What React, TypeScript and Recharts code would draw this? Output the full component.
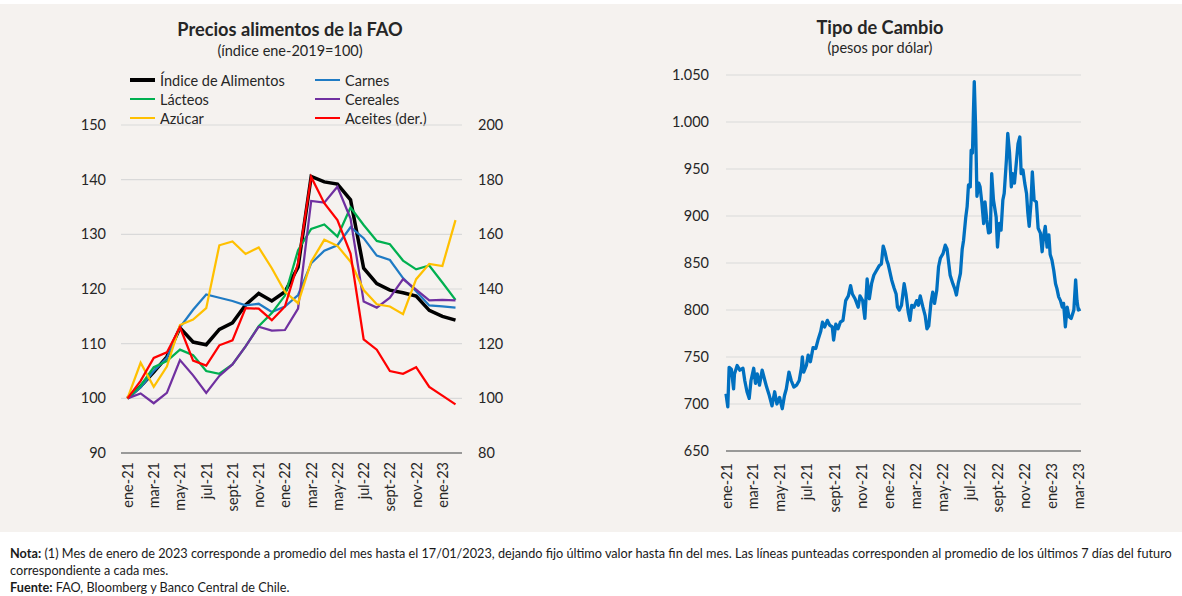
import { LineChart, Line, XAxis, YAxis, CartesianGrid } from "recharts";

const months = [
  "ene-21", "feb-21", "mar-21", "abr-21", "may-21", "jun-21", "jul-21", "ago-21", "sept-21", "oct-21", "nov-21", "dic-21",
  "ene-22", "feb-22", "mar-22", "abr-22", "may-22", "jun-22", "jul-22", "ago-22", "sept-22", "oct-22", "nov-22", "dic-22",
  "ene-23", "feb-23",
];
const indiceAlimentos = [100, 102.2, 104.8, 107.6, 112.9, 110.3, 109.8, 112.6, 113.8, 117.1, 119.2, 117.8, 119.5, 124, 140.6, 139.6, 139.2, 136.3, 123.8, 121, 119.8, 119.3, 118.7, 116.1, 115, 114.3];
const carnes = [100, 102, 105, 107.4, 113, 116.2, 119, 118.4, 117.8, 117, 117.3, 115.8, 116.8, 118.9, 124.7, 127, 128, 131.3, 129.3, 126.1, 125.3, 122, 119.6, 117, 116.8, 116.6];
const lacteos = [100, 102.3, 105.7, 106.8, 108.9, 107.9, 105, 104.5, 106.2, 109.5, 113.2, 115.6, 118.8, 127.1, 131, 131.8, 129.6, 134.9, 131.7, 128.8, 128.2, 125.2, 123.6, 124.3, 121.2, 118];
const cereales = [100, 100.9, 99.1, 101, 107, 104.2, 101, 104.1, 106.2, 109.5, 113.1, 112.4, 112.5, 116.4, 136.1, 135.8, 138.7, 132.9, 117.7, 116.6, 118.4, 121.8, 119.9, 117.9, 118, 117.9];
const azucar = [100, 106.5, 102.1, 105.8, 113.4, 114.4, 116.5, 128, 128.7, 126.4, 127.6, 123.8, 119.5, 117.4, 125, 129, 127.9, 125, 119.8, 117.2, 116.8, 115.4, 121.8, 124.6, 124.2, 132.6];
// eje derecho
const aceites = [100, 106.4, 114.8, 116.8, 126, 113.8, 112, 119.4, 121.2, 133, 132.8, 128.6, 133.6, 149.4, 181, 171.4, 165.2, 153, 121.6, 117.8, 110, 109, 111.4, 104.2, 101, 97.8];

const leftTicks = [90, 100, 110, 120, 130, 140, 150];
const rightTicks = [80, 100, 120, 140, 160, 180, 200];

const fxDates = [
  "2021-01-01", "2021-01-05", "2021-01-08", "2021-01-13", "2021-01-18", "2021-01-20", "2021-01-26", "2021-02-01", "2021-02-08", "2021-02-12",
  "2021-02-17", "2021-02-22", "2021-02-26", "2021-03-04", "2021-03-08", "2021-03-12", "2021-03-17", "2021-03-23", "2021-03-29", "2021-04-02",
  "2021-04-08", "2021-04-14", "2021-04-20", "2021-04-25", "2021-05-01", "2021-05-07", "2021-05-12", "2021-05-16", "2021-05-22", "2021-05-27",
  "2021-06-02", "2021-06-08", "2021-06-14", "2021-06-19", "2021-06-21", "2021-06-24", "2021-06-30", "2021-07-04", "2021-07-09", "2021-07-15",
  "2021-07-21", "2021-07-26", "2021-08-01", "2021-08-05", "2021-08-10", "2021-08-16", "2021-08-21", "2021-08-27", "2021-08-30", "2021-09-04",
  "2021-09-09", "2021-09-14", "2021-09-20", "2021-09-26", "2021-10-02", "2021-10-07", "2021-10-11", "2021-10-17", "2021-10-24", "2021-10-28",
  "2021-11-03", "2021-11-08", "2021-11-13", "2021-11-18", "2021-11-23", "2021-11-28", "2021-12-04", "2021-12-10", "2021-12-15", "2021-12-19",
  "2021-12-23", "2021-12-27", "2021-12-30", "2022-01-07", "2022-01-12", "2022-01-17", "2022-01-20", "2022-01-24", "2022-01-29", "2022-02-04",
  "2022-02-08", "2022-02-13", "2022-02-17", "2022-02-21", "2022-02-26", "2022-03-04", "2022-03-08", "2022-03-12", "2022-03-18", "2022-03-23",
  "2022-03-27", "2022-03-31", "2022-04-05", "2022-04-09", "2022-04-13", "2022-04-18", "2022-04-22", "2022-04-26", "2022-05-02", "2022-05-07",
  "2022-05-11", "2022-05-15", "2022-05-18", "2022-05-24", "2022-05-28", "2022-06-01", "2022-06-05", "2022-06-10", "2022-06-14", "2022-06-17",
  "2022-06-22", "2022-06-25", "2022-06-28", "2022-07-02", "2022-07-04", "2022-07-07", "2022-07-09", "2022-07-11", "2022-07-14", "2022-07-17",
  "2022-07-21", "2022-07-24", "2022-07-28", "2022-08-01", "2022-08-04", "2022-08-08", "2022-08-12", "2022-08-16", "2022-08-19", "2022-08-23",
  "2022-08-29", "2022-09-01", "2022-09-05", "2022-09-09", "2022-09-13", "2022-09-16", "2022-09-21", "2022-09-24", "2022-09-28", "2022-10-02",
  "2022-10-05", "2022-10-09", "2022-10-13", "2022-10-17", "2022-10-21", "2022-10-24", "2022-10-28", "2022-11-01", "2022-11-05", "2022-11-08",
  "2022-11-11", "2022-11-15", "2022-11-18", "2022-11-22", "2022-11-27", "2022-12-01", "2022-12-06", "2022-12-10", "2022-12-13", "2022-12-17",
  "2022-12-21", "2022-12-25", "2022-12-28", "2023-01-01", "2023-01-05", "2023-01-09", "2023-01-12", "2023-01-16", "2023-01-20", "2023-01-24",
  "2023-01-27", "2023-01-31", "2023-02-04", "2023-02-08", "2023-02-13", "2023-02-19", "2023-02-23", "2023-02-26", "2023-03-01", "2023-03-06",
];
const fxValues = [
  711, 697, 739, 737, 716, 732, 741, 736, 738, 725,
  713, 706, 725, 738, 722, 732, 720, 736, 725, 718,
  709, 698, 713, 700, 707, 695, 709, 716, 734, 725,
  718, 720, 725, 739, 750, 734, 741, 752, 745, 760,
  759, 768, 777, 787, 782, 789, 784, 782, 768, 785,
  780, 787, 789, 810, 815, 826, 817, 812, 803, 815,
  810, 791, 833, 812, 828, 837, 842, 847, 849, 868,
  862, 853, 849, 832, 824, 817, 803, 800, 805, 828,
  817, 798, 789, 805, 803, 810, 805, 815, 803, 794,
  780, 783, 808, 819, 807, 821, 846, 855, 860, 869,
  865, 849, 837, 828, 823, 816, 828, 839, 865, 874,
  899, 910, 933, 931, 970, 967, 1009, 1043, 995, 921,
  935, 931, 914, 892, 915, 896, 882, 883, 945, 917,
  899, 867, 892, 885, 917, 924, 960, 988, 967, 931,
  945, 935, 956, 977, 984, 945, 949, 935, 924, 903,
  889, 914, 947, 917, 915, 887, 882, 862, 878, 889,
  867, 880, 859, 853, 842, 828, 823, 814, 810, 803,
  807, 782, 803, 793, 791, 800, 832, 810, 800, 801,
];
const fxTickDates = [
  "2021-01-01", "2021-03-01", "2021-05-01", "2021-07-01", "2021-09-01", "2021-11-01",
  "2022-01-01", "2022-03-01", "2022-05-01", "2022-07-01", "2022-09-01", "2022-11-01",
  "2023-01-01", "2023-03-01",
];
const fxTickLabels = [
  "ene-21", "mar-21", "may-21", "jul-21", "sept-21", "nov-21",
  "ene-22", "mar-22", "may-22", "jul-22", "sept-22", "nov-22",
  "ene-23", "mar-23",
];
const fxTicksY = [650, 700, 750, 800, 850, 900, 950, 1000, 1050];

const foodData = months.map((mes, i) => ({
  mes,
  alimentos: indiceAlimentos[i],
  carnes: carnes[i],
  lacteos: lacteos[i],
  cereales: cereales[i],
  azucar: azucar[i],
  aceites: aceites[i],
}));

const toTime = (d: string) => Date.parse(d + "T00:00:00Z");
const fxData = fxDates.map((d, i) => ({ t: toTime(d), tc: fxValues[i] }));
const fxTicks = fxTickDates.map(toTime);

const FONT = "Lato, 'Open Sans', sans-serif";
const TEXT = "#262626";
const GRID = "#D9D9D9";
const BG = "#F5F2EF";

const RotTick = (props: any) => {
  const { x, y, payload, labelOf } = props;
  const label = labelOf ? labelOf(payload.value) : payload.value;
  return (
    <text
      x={x}
      y={y}
      transform={`rotate(-90 ${x} ${y})`}
      textAnchor="end"
      dominantBaseline="central"
      fontSize={14.5}
      fontFamily={FONT}
      fill={TEXT}
    >
      {label}
    </text>
  );
};

const fmtMiles = (v: number) =>
  v >= 1000 ? `${Math.floor(v / 1000)}.${String(v % 1000).padStart(3, "0")}` : String(v);

const legendItems = [
  { name: "Índice de Alimentos", color: "#000000", w: 4, x: 130, y: 80 },
  { name: "Carnes", color: "#1F7BC4", w: 2.5, x: 315, y: 80 },
  { name: "Lácteos", color: "#00B050", w: 2.5, x: 130, y: 99 },
  { name: "Cereales", color: "#7030A0", w: 2.5, x: 315, y: 99 },
  { name: "Azúcar", color: "#FFC000", w: 2.5, x: 130, y: 118 },
  { name: "Aceites (der.)", color: "#FF0000", w: 2.5, x: 315, y: 118 },
];

const abs = (left: number, top: number, extra: any = {}) => ({ position: "absolute" as const, left, top, ...extra });

export default function App() {
  const tickStyle = { fontSize: 14.5, fill: TEXT, fontFamily: FONT };
  return (
    <div style={{ position: "absolute", left: 0, top: 0, width: 1182, height: 596, background: "#fff", fontFamily: FONT, color: TEXT }}>
      <div style={abs(0, 4, { width: 1182, height: 528, background: BG })} />

      {/* titulo izquierdo */}
      <div style={abs(90, 18, { width: 400, textAlign: "center", fontSize: 18.2, fontWeight: 700, lineHeight: "22px" })}>
        Precios alimentos de la FAO
      </div>
      <div style={abs(90, 41, { width: 400, textAlign: "center", fontSize: 14.5, lineHeight: "20px" })}>
        (índice ene-2019=100)
      </div>
      {legendItems.map((it) => (
        <div key={it.name} style={abs(it.x, it.y - 10, { height: 20, display: "flex", alignItems: "center", fontSize: 14.5, whiteSpace: "nowrap" })}>
          <span style={{ display: "inline-block", width: 25, height: it.w, background: it.color, marginRight: 5 }} />
          {it.name}
        </div>
      ))}

      <div style={abs(0, 0)}>
        <LineChart width={590} height={530} data={foodData} margin={{ top: 125, right: 0, bottom: 0, left: 0 }}>
          <CartesianGrid yAxisId="left" vertical={false} stroke={GRID} strokeWidth={1.2} />
          <XAxis
            dataKey="mes"
            interval={1}
            height={77}
            padding={{ left: 6.5, right: 6.5 }}
            tickLine={false}
            tickSize={6}
            tickMargin={3}
            axisLine={{ stroke: "#7F7F7F", strokeWidth: 1.5 }}
            tick={<RotTick />}
          />
          <YAxis yAxisId="left" domain={[90, 150]} ticks={leftTicks} width={121} axisLine={false} tickLine={false} tickSize={6} tickMargin={9} tick={tickStyle} />
          <YAxis yAxisId="right" orientation="right" domain={[80, 200]} ticks={rightTicks} width={128} axisLine={false} tickLine={false} tickSize={6} tickMargin={10} tick={tickStyle} />
          <Line yAxisId="left" dataKey="alimentos" stroke="#000000" strokeWidth={3.5} dot={false} isAnimationActive={false} />
          <Line yAxisId="left" dataKey="carnes" stroke="#1F7BC4" strokeWidth={2.25} dot={false} isAnimationActive={false} />
          <Line yAxisId="left" dataKey="lacteos" stroke="#00B050" strokeWidth={2.25} dot={false} isAnimationActive={false} />
          <Line yAxisId="left" dataKey="cereales" stroke="#7030A0" strokeWidth={2.25} dot={false} isAnimationActive={false} />
          <Line yAxisId="left" dataKey="azucar" stroke="#FFC000" strokeWidth={2.25} dot={false} isAnimationActive={false} />
          <Line yAxisId="right" dataKey="aceites" stroke="#FF0000" strokeWidth={2.25} dot={false} isAnimationActive={false} />
        </LineChart>
      </div>

      {/* titulo derecho */}
      <div style={abs(680, 16, { width: 400, textAlign: "center", fontSize: 18.2, fontWeight: 700, lineHeight: "22px" })}>
        Tipo de Cambio
      </div>
      <div style={abs(680, 38, { width: 400, textAlign: "center", fontSize: 14.5, lineHeight: "20px" })}>
        (pesos por dólar)
      </div>

      <div style={abs(590, 0)}>
        <LineChart width={592} height={530} data={fxData} margin={{ top: 75, right: 101, bottom: 0, left: 0 }}>
          <CartesianGrid vertical={false} stroke={GRID} strokeWidth={1.2} />
          <XAxis
            dataKey="t"
            type="number"
            domain={[toTime("2021-01-01"), toTime("2023-03-07")]}
            ticks={fxTicks}
            interval={0}
            height={79}
            tickLine={false}
            tickSize={6}
            tickMargin={6}
            axisLine={{ stroke: "#7F7F7F", strokeWidth: 1.5 }}
            tick={<RotTick labelOf={(v: number) => fxTickLabels[fxTicks.indexOf(v)]} />}
          />
          <YAxis domain={[650, 1050]} ticks={fxTicksY} width={136} axisLine={false} tickLine={false} tickSize={6} tickMargin={11} tick={tickStyle} tickFormatter={fmtMiles} />
          <Line dataKey="tc" stroke="#0070C0" strokeWidth={3.3} strokeLinejoin="round" dot={false} isAnimationActive={false} />
        </LineChart>
      </div>

      <div style={abs(10, 545, { fontSize: 12.7, lineHeight: "17px", color: "#1a1a1a", whiteSpace: "nowrap" })}>
        <div>
          <b>Nota:</b> (1) Mes de enero de 2023 corresponde a promedio del mes hasta el 17/01/2023, dejando fijo último valor hasta fin del mes. Las líneas punteadas corresponden al promedio de los últimos 7 días del futuro
        </div>
        <div>correspondiente a cada mes.</div>
        <div>
          <b>Fuente:</b> FAO, Bloomberg y Banco Central de Chile.
        </div>
      </div>
    </div>
  );
}
